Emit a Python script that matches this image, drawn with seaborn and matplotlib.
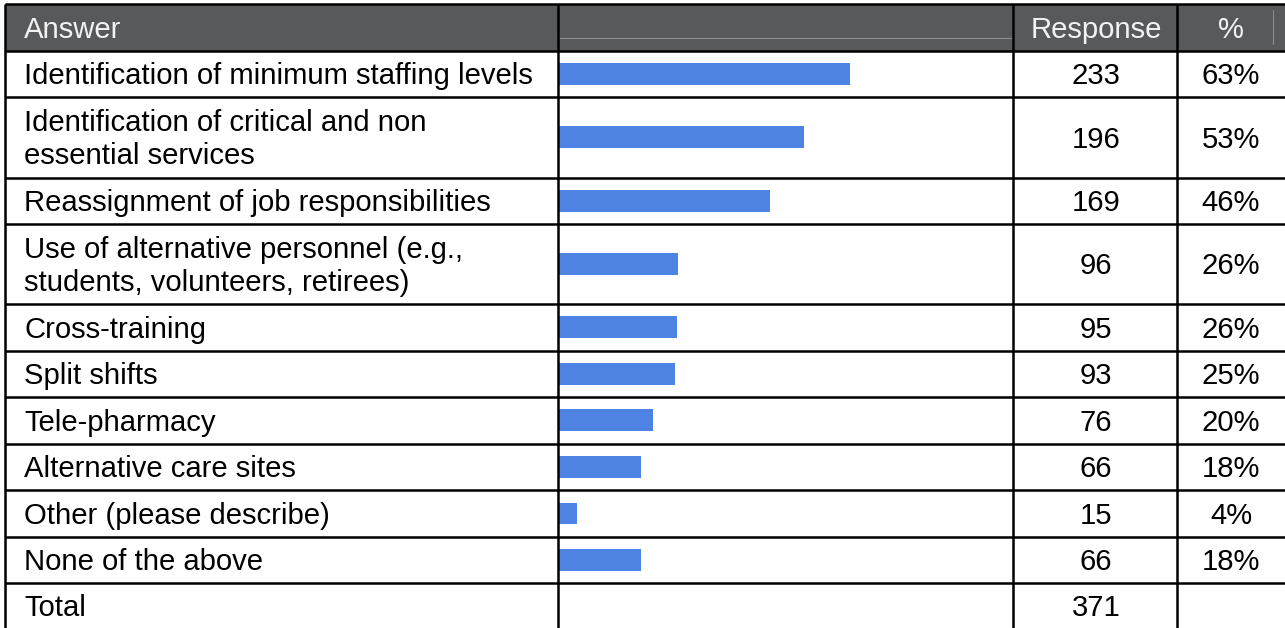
import matplotlib
matplotlib.use("Agg")
import matplotlib.pyplot as plt
import seaborn as sns
import pandas as pd
import numpy as np

# ---------------- data ----------------
answers = [
    "Identification of minimum staffing levels",
    "Identification of critical and non\nessential services",
    "Reassignment of job responsibilities",
    "Use of alternative personnel (e.g.,\nstudents, volunteers, retirees)",
    "Cross-training",
    "Split shifts",
    "Tele-pharmacy",
    "Alternative care sites",
    "Other (please describe)",
    "None of the above",
]
responses = [233, 196, 169, 96, 95, 93, 76, 66, 15, 66]
percents = [63, 53, 46, 26, 26, 25, 20, 18, 4, 18]
total_label = "Total"
total_value = 371
headers = ["Answer", "", "Response", "%"]

# ---------------- layout (pixels) ----------------
W, H = 1285, 628
row_edges = [4, 50.7, 96.7, 177.7, 224, 303.7, 350.7, 396.7, 443.7, 490, 537, 583, 628]
col_edges = [5, 558, 1013, 1177]
left_pad = 24
resp_center = 1096
pct_center = 1231
bar_px = 21.7
px_per_count = 1.255
font_px = 29.3
line_gap = 33

BLUE = "#4e83e4"
HEADER_BG = "#58595b"

sns.set_theme(style="white")
plt.rcParams["font.family"] = ["Liberation Sans", "DejaVu Sans"]
fs = font_px * 72 / 100

fig = plt.figure(figsize=(W / 100, H / 100), dpi=100, facecolor="white")

# bar axes (column 2)
bax = fig.add_axes([col_edges[1] / W, 0, (col_edges[2] - col_edges[1]) / W, 1])
bax.set_zorder(1)

centers = [(row_edges[i + 1] + row_edges[i + 2]) / 2 for i in range(len(answers))]
df = pd.DataFrame({"answer": answers, "count": responses, "ypos": centers})
min_gap = np.min(np.diff(np.unique(df["ypos"].values)))
sns.barplot(data=df, x="count", y="ypos", orient="h", native_scale=True,
            color=BLUE, saturation=1, errorbar=None, width=bar_px / min_gap,
            linewidth=0, ax=bax)
bax.set_xlim(0, (col_edges[2] - col_edges[1]) / px_per_count)
bax.set_ylim(H, 0)
bax.axis("off")

# table axes (pixel coordinates)
ax = fig.add_axes([0, 0, 1, 1])
ax.set_zorder(2)
ax.set_xlim(0, W)
ax.set_ylim(H, 0)
ax.axis("off")

# header background
ax.add_patch(plt.Rectangle((col_edges[0], row_edges[0]), W - col_edges[0],
                           row_edges[1] - row_edges[0], color=HEADER_BG, lw=0, zorder=1))
# subtle header details
ax.plot([col_edges[1], col_edges[2]], [38, 38], color="#8c8c8c", lw=0.8, zorder=2)
ax.plot([1273, 1273], [10, 44], color="#8c8c8c", lw=0.8, zorder=2)

lw = 2.5 * 72 / 100
for y in row_edges[:-1]:
    ax.plot([col_edges[0], W], [y, y], color="black", lw=lw, zorder=3, solid_capstyle="butt")
for x in col_edges:
    ax.plot([x, x], [row_edges[0], H], color="black", lw=lw, zorder=3, solid_capstyle="butt")

base_off = 0.358 * font_px


def put(x, yc, s, ha="left", color="black"):
    lines = s.split("\n")
    n = len(lines)
    for k, ln in enumerate(lines):
        y = yc + (k - (n - 1) / 2) * line_gap + base_off
        ax.text(x, y, ln, ha=ha, va="baseline", fontsize=fs, color=color, zorder=4)


hc = (row_edges[0] + row_edges[1]) / 2
put(left_pad, hc, headers[0], color="#f2f2f2")
put(resp_center, hc, headers[2], ha="center", color="#f2f2f2")
put(pct_center, hc, headers[3], ha="center", color="#f2f2f2")

for i, (a, r, p) in enumerate(zip(answers, responses, percents)):
    yc = (row_edges[i + 1] + row_edges[i + 2]) / 2
    put(left_pad, yc, a)
    put(resp_center, yc, str(r), ha="center")
    put(pct_center, yc, f"{p}%", ha="center")

yc = (row_edges[-2] + row_edges[-1]) / 2
put(left_pad, yc, total_label)
put(resp_center, yc, str(total_value), ha="center")

fig.savefig("out.png", dpi=100, facecolor="white")
